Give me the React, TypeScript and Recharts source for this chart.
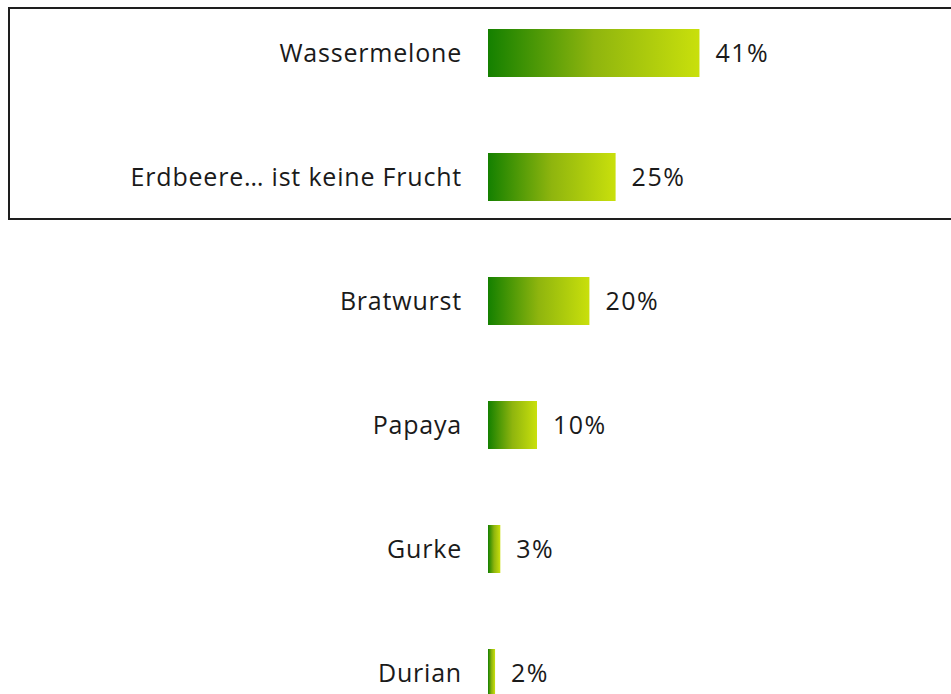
import { BarChart, Bar, XAxis, YAxis, LabelList } from "recharts";

// categories and shares (percent)
const categories = ["Wassermelone", "Erdbeere… ist keine Frucht", "Bratwurst", "Papaya", "Gurke", "Durian"];
const shares = [41, 25, 20, 10, 3, 2];

const data = categories.map((name, i) => ({ name, value: shares[i] }));

const font = "'Open Sans', sans-serif";

export default function App() {
    return (
        <div style={{ position: "fixed", left: 0, top: 0, width: 951, height: 694, overflow: "hidden", background: "#fff" }}>
            {/* frame around the first two rows */}
            <div
                style={{
                    position: "absolute",
                    left: 8,
                    top: 7,
                    width: 1000,
                    height: 209,
                    border: "2px solid #1e1e1e",
                }}
            />
            <div style={{ position: "absolute", left: 8, top: -9 }}>
                <BarChart
                    width={943}
                    height={744}
                    data={data}
                    layout="vertical"
                    margin={{ top: 0, right: 0, left: 0, bottom: 0 }}
                >
                    <defs>
                        <linearGradient id="barFill" x1="0" y1="0" x2="1" y2="0">
                            <stop offset="0%" stopColor="#148000" />
                            <stop offset="50%" stopColor="#8fb50e" />
                            <stop offset="100%" stopColor="#c9e00c" />
                        </linearGradient>
                    </defs>
                    <XAxis type="number" domain={[0.65, 89]} allowDataOverflow hide />
                    <YAxis
                        type="category"
                        dataKey="name"
                        width={480}
                        axisLine={false}
                        tickLine={false}
                        tickSize={0}
                        tickMargin={26}
                        interval={0}
                        tick={{ fill: "#1a1a1a", fontSize: 25, fontFamily: font, letterSpacing: 0.8 }}
                    />
                    <Bar dataKey="value" fill="url(#barFill)" barSize={48} isAnimationActive={false}>
                        <LabelList
                            dataKey="value"
                            position="right"
                            offset={16}
                            formatter={(v: any) => `${v}%`}
                            style={{ fill: "#1a1a1a", fontSize: 25, fontFamily: font, letterSpacing: 1.5 }}
                        />
                    </Bar>
                </BarChart>
            </div>
        </div>
    );
}
